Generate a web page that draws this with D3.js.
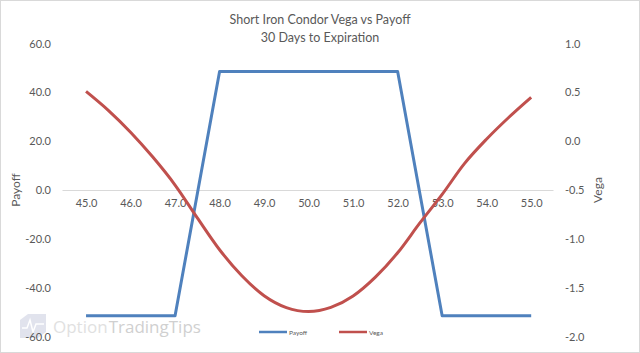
<!DOCTYPE html>
<html><head><meta charset="utf-8">
<script src="https://cdn.jsdelivr.net/npm/d3@7"></script>
<style>
html,body{margin:0;padding:0;background:#fff;}
svg{display:block;font-family:Lato, "Open Sans", sans-serif;}
</style></head>
<body>
<svg id="chart" width="640" height="353"></svg>
<script>
const prices = [45,45.5,46,46.5,47,47.5,48,48.5,49,49.5,50,50.5,51,51.5,52,52.5,53,53.5,54,54.5,55];
const payoff = [-51.5,-51.5,-51.5,-51.5,-51.5,-1.5,48.5,48.5,48.5,48.5,48.5,48.5,48.5,48.5,48.5,-1.5,-51.5,-51.5,-51.5,-51.5,-51.5];
const vega = [0.51,0.316,0.092,-0.163,-0.449,-0.786,-1.112,-1.378,-1.582,-1.704,-1.745,-1.702,-1.585,-1.392,-1.143,-0.837,-0.545,-0.23,0.022,0.245,0.449];
const xTicks = [45,46,47,48,49,50,51,52,53,54,55];
const leftTicks = [-60,-40,-20,0,20,40,60];
const rightTicks = [-2,-1.5,-1,-0.5,0,0.5,1];
const title1 = "Short Iron Condor Vega vs Payoff";
const title2 = "30 Days to Expiration";

const svg = d3.select("#chart");
const W = 640, H = 353;
const blue = "#4f81bd", red = "#c0504d", txt = "#595959";

svg.append("rect").attr("x",0.5).attr("y",0.5).attr("width",W-1).attr("height",H-1)
  .attr("fill","#fff").attr("stroke","#d9d9d9");

const x = d3.scaleLinear().domain([44.46,55.49]).range([62,553]);
const yL = d3.scaleLinear().domain([-60,60]).range([336.5,43.5]);
const yR = d3.scaleLinear().domain([-2,1]).range([336.5,43.5]);
const fmt = v => d3.format(".1f")(v).replace("\u2212","-");

// watermark
const wm = svg.append("g").attr("opacity",0.55);
wm.append("path").attr("d","M20,320 L28,314 L46,314 L46,332 L38,338 L20,338 Z").attr("fill","#c9cde0");
wm.append("path").attr("d","M22,328 L27,328 L30,320 L33,332 L36,324 L44,324").attr("fill","none").attr("stroke","#fff").attr("stroke-width",1.5);
const w1 = wm.append("text").attr("x",53).attr("y",333).attr("font-size",17).attr("font-family","'Open Sans', sans-serif")
  .attr("fill","#c8c8c8").text("Option");
const w1len = w1.node().getComputedTextLength();
wm.append("text").attr("x",53 + w1len + 1).attr("y",333).attr("font-size",17).attr("font-family","'Open Sans', sans-serif")
  .attr("fill","#aaaaaa").text("TradingTips");

// titles
svg.append("text").attr("x",320).attr("y",24).attr("text-anchor","middle").attr("font-size",12.5).attr("fill",txt).text(title1);
svg.append("text").attr("x",320).attr("y",42).attr("text-anchor","middle").attr("font-size",12.5).attr("fill",txt).text(title2);

// left axis
const gl = svg.append("g").attr("transform","translate(51,0)")
  .call(d3.axisLeft(yL).tickValues(leftTicks).tickSize(0).tickPadding(0).tickFormat(fmt));
gl.select(".domain").remove();
gl.selectAll("text").attr("font-size",11).attr("fill",txt).attr("font-family","Lato, sans-serif");

// right axis
const gr = svg.append("g").attr("transform","translate(565,0)")
  .call(d3.axisRight(yR).tickValues(rightTicks).tickSize(0).tickPadding(0).tickFormat(fmt));
gr.select(".domain").remove();
gr.selectAll("text").attr("font-size",11).attr("fill",txt).attr("font-family","Lato, sans-serif");

// x axis at payoff 0
const gx = svg.append("g").attr("transform",`translate(0,${yL(0)})`)
  .call(d3.axisBottom(x).tickValues(xTicks).tickSize(0).tickPadding(9).tickFormat(fmt));
gx.select(".domain").attr("stroke","#d9d9d9");
gx.selectAll("text").attr("font-size",11).attr("fill",txt).attr("font-family","Lato, sans-serif");

// axis titles
svg.append("text").attr("transform",`translate(20,${yL(0)}) rotate(-90)`).attr("text-anchor","middle")
  .attr("font-size",12).attr("fill",txt).text("Payoff");
svg.append("text").attr("transform",`translate(602,${yL(0)}) rotate(-90)`).attr("text-anchor","middle")
  .attr("font-size",12).attr("fill",txt).text("Vega");

// lines
const payLine = d3.line().x((d,i)=>x(prices[i])).y(d=>yL(d)).curve(d3.curveLinear);
const vegaLine = d3.line().x((d,i)=>x(prices[i])).y(d=>yR(d)).curve(d3.curveMonotoneX);
svg.append("path").datum(payoff).attr("d",payLine).attr("fill","none").attr("stroke",blue).attr("stroke-width",3).attr("stroke-linejoin","round");
svg.append("path").datum(vega).attr("d",vegaLine).attr("fill","none").attr("stroke",red).attr("stroke-width",3).attr("stroke-linejoin","round");

// legend
const leg = [{name:"Payoff",c:blue,x:259},{name:"Vega",c:red,x:339}];
leg.forEach(l=>{
  svg.append("line").attr("x1",l.x).attr("x2",l.x+28).attr("y1",332).attr("y2",332).attr("stroke",l.c).attr("stroke-width",2.5);
  svg.append("text").attr("x",l.x+30).attr("y",334.5).attr("font-size",6.5).attr("fill",txt).text(l.name);
});
</script>
</body></html>
